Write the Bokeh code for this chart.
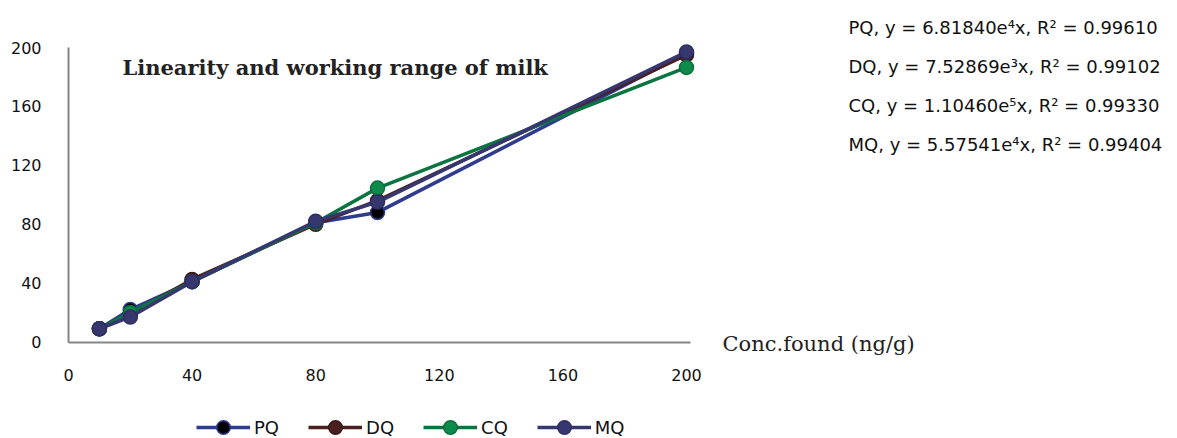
from bokeh.plotting import figure
from bokeh.models import Range1d, Label, Legend, LegendItem, FixedTicker, LinearAxis
from bokeh.embed import file_html
from bokeh.resources import INLINE

# Concentration levels (ng/g) and the found values for each series
conc = [10, 20, 40, 80, 100, 200]
pq = [9, 22, 41, 81, 88, 196]
dq = [9, 19, 42.5, 80, 96, 195]
cq = [9, 20, 41, 81, 104.5, 186.5]
mq = [9, 17, 41, 82, 95, 197]

series_names = ["PQ", "DQ", "CQ", "MQ"]
equations = [
    "PQ, y = 6.81840e\u2074x, R\u00b2 = 0.99610",
    "DQ, y = 7.52869e\u00b3x, R\u00b2 = 0.99102",
    "CQ, y = 1.10460e\u2075x, R\u00b2 = 0.99330",
    "MQ, y = 5.57541e\u2074x, R\u00b2 = 0.99404",
]
x_ticks = [0, 40, 80, 120, 160, 200]
y_ticks = [0, 40, 80, 120, 160, 200]

W, H = 1177, 438

# Pixel placement of the axes inside the canvas
X0_PX, X200_PX = 68, 686      # x = 0 and x = 200
Y0_PX, Y200_PX = 341.5, 47    # y = 0 and y = 200 (from top)
sx = (X200_PX - X0_PX) / 200.0
sy = (Y0_PX - Y200_PX) / 200.0
x_range = Range1d(-X0_PX / sx, (W - X0_PX) / sx)
y_range = Range1d(-(H - Y0_PX) / sy, Y0_PX / sy)

p = figure(width=W, height=H, output_backend="svg", toolbar_location=None,
           x_range=x_range, y_range=y_range,
           x_axis_location=None, y_axis_location=None,
           min_border=0)
p.outline_line_color = None
p.background_fill_color = "white"
p.border_fill_color = "white"
p.xgrid.visible = False
p.ygrid.visible = False

x_axis_y = -(342 - Y0_PX) / sy
xaxis = LinearAxis(ticker=FixedTicker(ticks=x_ticks), fixed_location=x_axis_y,
                   bounds=(0, (690 - X0_PX) / sx))
yaxis = LinearAxis(ticker=FixedTicker(ticks=y_ticks), fixed_location=0,
                   bounds=(x_axis_y, 200))
for ax in (xaxis, yaxis):
    ax.axis_line_color = "#858585"
    ax.axis_line_width = 2
    ax.major_tick_line_color = None
    ax.minor_tick_line_color = None
    ax.major_tick_out = 0
    ax.major_tick_in = 0
    ax.major_label_text_font = "DejaVu Sans"
    ax.major_label_text_font_size = "16px"
    ax.major_label_text_color = "#111111"
yaxis.major_label_standoff = 27
xaxis.major_label_standoff = 26
p.add_layout(xaxis, "below")
p.add_layout(yaxis, "left")

styles = {
    "PQ": dict(line="#2f3b8e", fill="#000000", outline="#2f3b8e"),
    "DQ": dict(line="#4a1f1f", fill="#4a1f1f", outline="#3a1515"),
    "CQ": dict(line="#0b7440", fill="#0e8a4a", outline="#0b6e3c"),
    "MQ": dict(line="#37376f", fill="#37376f", outline="#2e2e62"),
}

items = []
for name, ys in zip(series_names, [pq, dq, cq, mq]):
    st = styles[name]
    ln = p.line(conc, ys, line_color=st["line"], line_width=3.5)
    sc = p.scatter(conc, ys, size=14, fill_color=st["fill"],
                   line_color=st["outline"], line_width=1.5)
    items.append(LegendItem(label=name, renderers=[ln, sc]))

legend = Legend(items=items, orientation="horizontal",
                location=(196, 438 - 427 - 17), glyph_width=54, glyph_height=34,
                label_text_font="DejaVu Sans", label_text_font_size="18px",
                label_text_color="#111111", label_standoff=4, spacing=29,
                padding=0, margin=0, border_line_color=None,
                background_fill_alpha=0)
p.add_layout(legend, "center")

# Chart heading inside the plot area
p.add_layout(Label(x=122, y=H - 67, x_units="screen", y_units="screen",
                   text="Linearity and working range of milk",
                   text_font="DejaVu Serif", text_font_style="bold",
                   text_font_size="21px", text_color="#222222",
                   text_baseline="middle"))

# Axis caption to the right of the x axis
p.add_layout(Label(x=722, y=H - 343, x_units="screen", y_units="screen",
                   text="Conc.found (ng/g)", text_font="DejaVu Serif",
                   text_font_size="21px", text_color="#222222",
                   text_baseline="middle"))

# Regression equations
for i, eq in enumerate(equations):
    p.add_layout(Label(x=848, y=H - (27 + 39 * i),
                       x_units="screen", y_units="screen", text=eq,
                       text_font="DejaVu Sans", text_font_size="18px",
                       text_color="#111111", text_baseline="middle"))

open("out.html", "w").write(file_html(p, INLINE))
